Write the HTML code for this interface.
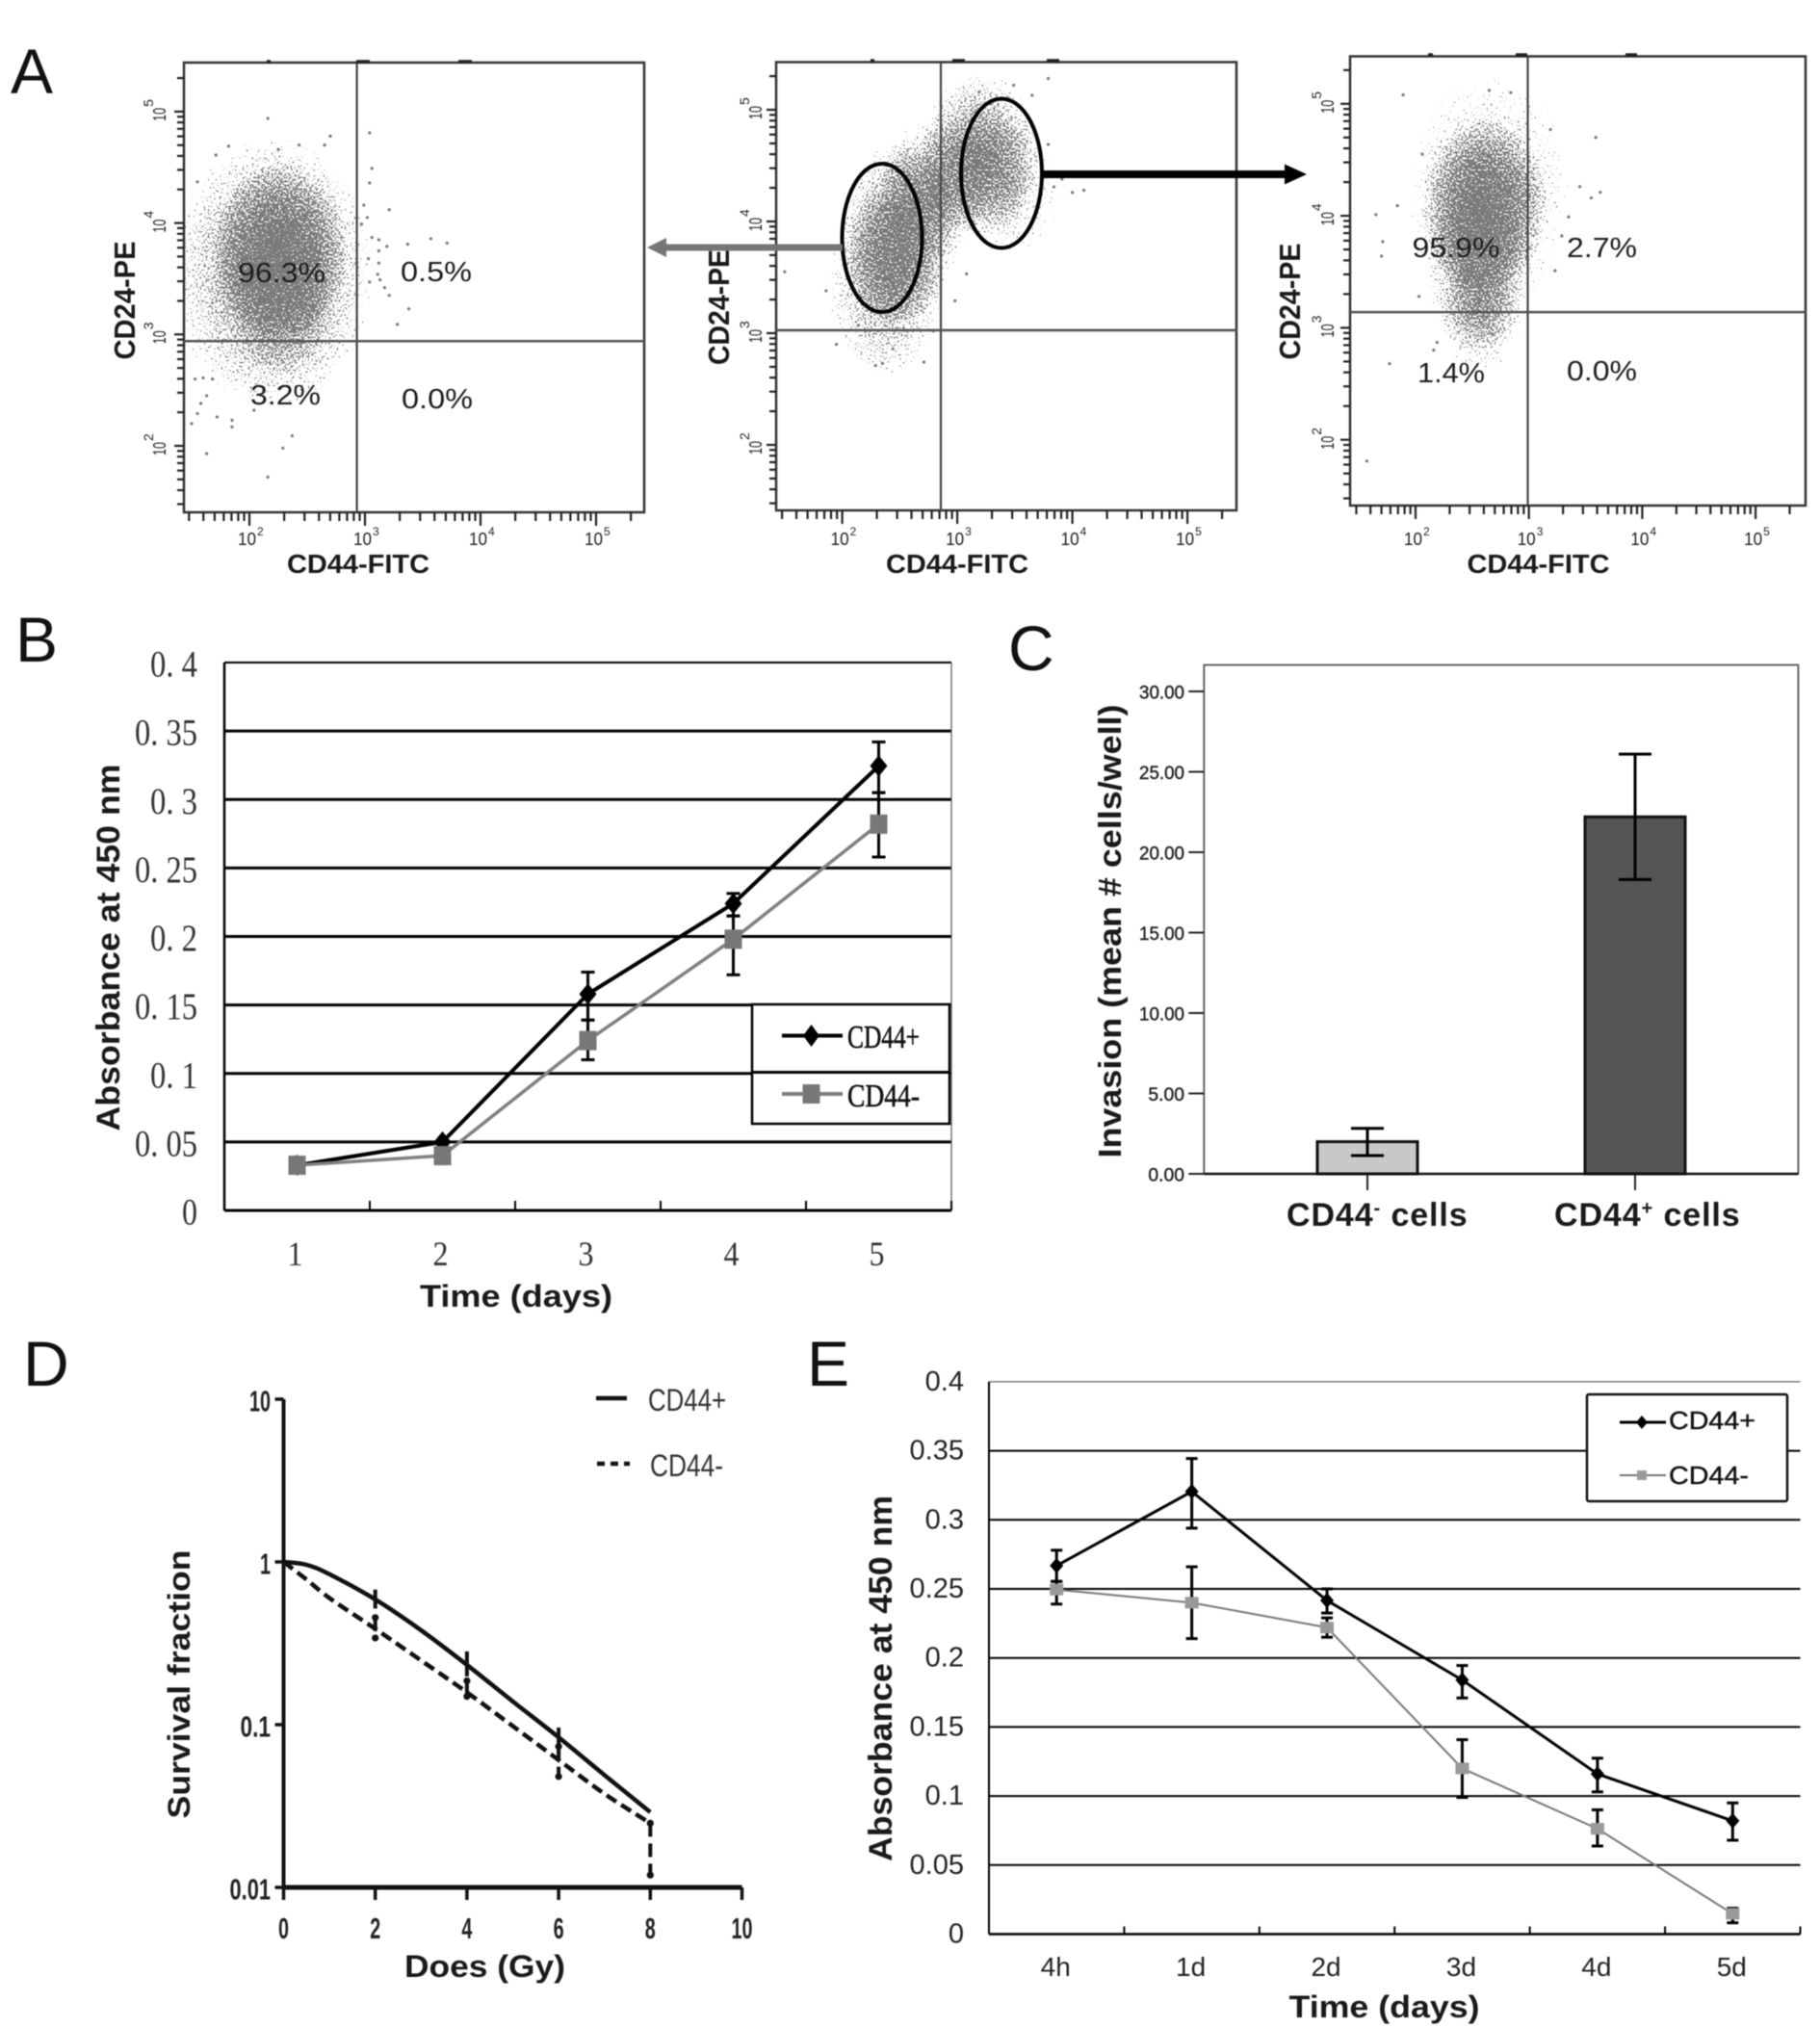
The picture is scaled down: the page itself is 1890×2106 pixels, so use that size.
<!DOCTYPE html>
<html lang="en">
<head>
<meta charset="utf-8">
<title>CD44 characterisation figure</title>
<style>
  html, body { margin: 0; padding: 0; background: #fff; }
  #figure { display: block; width: 1890px; height: 2106px; filter: blur(0.45px); font-family: "Liberation Sans", sans-serif; }
  .b { font-weight: bold; fill: #1a1a1a; }
  .letter { font-size: 66px; fill: #111; }
  .pct { font-size: 29px; fill: #1c1c1c; }
</style>
</head>
<body>
<svg id="figure" width="1890" height="2106" viewBox="0 0 1890 2106">
  <defs>
    <radialGradient id="cloud-gradient">
      <stop offset="0" stop-color="#000" stop-opacity="0.92"/>
      <stop offset="0.35" stop-color="#000" stop-opacity="0.72"/>
      <stop offset="0.65" stop-color="#000" stop-opacity="0.5"/>
      <stop offset="0.85" stop-color="#000" stop-opacity="0.3"/>
      <stop offset="1" stop-color="#000" stop-opacity="0.12"/>
    </radialGradient>
    <filter id="speckle" filterUnits="userSpaceOnUse" x="0" y="0" width="1890" height="700" color-interpolation-filters="sRGB">
      <feTurbulence type="fractalNoise" baseFrequency="0.5" numOctaves="1" seed="7" result="t"/>
      <feColorMatrix in="t" type="matrix" values="0 0 0 0 0  0 0 0 0 0  0 0 0 0 0  2 0 0 0 -0.5" result="n"/>
      <feComposite in="SourceAlpha" in2="n" operator="arithmetic" k1="0" k2="1" k3="1" k4="-1" result="m"/>
      <feComponentTransfer in="m" result="s"><feFuncA type="linear" slope="9" intercept="0"/></feComponentTransfer>
      <feFlood flood-color="#7a7a7a" result="c"/>
      <feComposite in="c" in2="s" operator="in"/>
    </filter>
    <clipPath id="clip-a1"><rect x="191" y="65" width="478" height="467"/></clipPath>
    <clipPath id="clip-a2"><rect x="806" y="64" width="478" height="466"/></clipPath>
    <clipPath id="clip-a3"><rect x="1402" y="58" width="473" height="467"/></clipPath>
  </defs>

  <!-- Panel letters -->
  <text class="letter" x="11" y="97" font-size="68">A</text>
  <text class="letter" x="16" y="687">B</text>
  <text class="letter" x="1047" y="696">C</text>
  <text class="letter" x="24" y="1439">D</text>
  <text class="letter" x="838" y="1439">E</text>

  <!-- Panel A flow plots -->
  <g id="a1"></g>
  <g id="a2"></g>
  <g id="a3"></g>

  <g stroke="#222" stroke-width="3.5">
    <line x1="277" x2="281" y1="64" y2="64"/>
    <line x1="370" x2="384" y1="64" y2="64"/>
    <line x1="476" x2="490" y1="64" y2="64"/>
    <line x1="904" x2="908" y1="63" y2="63"/>
    <line x1="989" x2="1002" y1="63" y2="63"/>
    <line x1="1087" x2="1100" y1="63" y2="63"/>
    <line x1="1483" x2="1488" y1="57" y2="57"/>
    <line x1="1574" x2="1586" y1="57" y2="57"/>
    <line x1="1688" x2="1700" y1="57" y2="57"/>
  </g>

  <g>
    <text class="pct" x="247" y="293" textLength="91" lengthAdjust="spacingAndGlyphs">96.3%</text>
    <text class="pct" x="416" y="292" textLength="74" lengthAdjust="spacingAndGlyphs">0.5%</text>
    <text class="pct" x="260" y="420" textLength="73" lengthAdjust="spacingAndGlyphs">3.2%</text>
    <text class="pct" x="417" y="424" textLength="74" lengthAdjust="spacingAndGlyphs">0.0%</text>
    <text class="b" transform="translate(140,312) rotate(-90)" text-anchor="middle" font-size="31" textLength="123" lengthAdjust="spacingAndGlyphs">CD24-PE</text>
    <text class="b" x="372" y="595" text-anchor="middle" font-size="28" textLength="148" lengthAdjust="spacingAndGlyphs">CD44-FITC</text>

    <text class="b" transform="translate(757,319) rotate(-90)" text-anchor="middle" font-size="31" textLength="120" lengthAdjust="spacingAndGlyphs">CD24-PE</text>
    <text class="b" x="994" y="595" text-anchor="middle" font-size="28" textLength="148" lengthAdjust="spacingAndGlyphs">CD44-FITC</text>
    <ellipse cx="916" cy="247" rx="41.5" ry="77" fill="none" stroke="#000" stroke-width="4"/>
    <ellipse cx="1040" cy="180" rx="42" ry="77.5" fill="none" stroke="#000" stroke-width="4"/>
    <path d="M875 253.5 H692 V247 L672 257 L692 267 V260.5 H875 Z" fill="#767676"/>
    <path d="M1082 177 H1334 V170.5 L1357 181 L1334 191.5 V185 H1082 Z" fill="#000"/>

    <text class="pct" x="1466.5" y="267" textLength="91" lengthAdjust="spacingAndGlyphs">95.9%</text>
    <text class="pct" x="1627" y="267" textLength="73" lengthAdjust="spacingAndGlyphs">2.7%</text>
    <text class="pct" x="1472" y="397" textLength="70" lengthAdjust="spacingAndGlyphs">1.4%</text>
    <text class="pct" x="1627" y="395" textLength="73" lengthAdjust="spacingAndGlyphs">0.0%</text>
    <text class="b" transform="translate(1350,313) rotate(-90)" text-anchor="middle" font-size="31" textLength="121" lengthAdjust="spacingAndGlyphs">CD24-PE</text>
    <text class="b" x="1597.5" y="595" text-anchor="middle" font-size="28" textLength="148" lengthAdjust="spacingAndGlyphs">CD44-FITC</text>
  </g>

  <!-- Panel B -->
  <g id="chart-b"></g>
  <g>
    <rect x="781" y="1043" width="205" height="124" fill="#fff" stroke="#000" stroke-width="2.5"/>
    <line x1="781" x2="986" y1="1113.5" y2="1113.5" stroke="#000" stroke-width="3"/>
    <line x1="812" x2="875" y1="1075.5" y2="1075.5" stroke="#000" stroke-width="4"/>
    <polygon points="842.5,1064 851,1075.5 842.5,1087 834,1075.5" fill="#000"/>
    <text x="880" y="1088" font-family="Liberation Serif, serif" font-size="34" textLength="75" lengthAdjust="spacingAndGlyphs" fill="#111" stroke="#111" stroke-width="0.6">CD44+</text>
    <line x1="812" x2="875" y1="1136" y2="1136" stroke="#808080" stroke-width="4"/>
    <rect x="833.5" y="1126" width="18" height="20" fill="#777"/>
    <text x="880" y="1149" font-family="Liberation Serif, serif" font-size="34" textLength="75" lengthAdjust="spacingAndGlyphs" fill="#111" stroke="#111" stroke-width="0.6">CD44-</text>
  </g>
  <text class="b" transform="translate(124,984) rotate(-90)" text-anchor="middle" font-size="34" textLength="381" lengthAdjust="spacingAndGlyphs">Absorbance at 450 nm</text>
  <text class="b" x="536" y="1357" text-anchor="middle" font-size="32" textLength="200" lengthAdjust="spacingAndGlyphs">Time (days)</text>

  <!-- Panel C -->
  <g id="chart-c"></g>
  <text class="b" transform="translate(1164,967) rotate(-90)" text-anchor="middle" font-size="33" textLength="471" lengthAdjust="spacingAndGlyphs">Invasion (mean # cells/well)</text>
  <text class="b" x="1336" y="1273" font-size="34" letter-spacing="0.9">CD44<tspan dy="-12" font-size="20">-</tspan><tspan dy="12"> cells</tspan></text>
  <text class="b" x="1614" y="1273" font-size="34" letter-spacing="0.9">CD44<tspan dy="-12" font-size="20">+</tspan><tspan dy="12"> cells</tspan></text>

  <!-- Panel D -->
  <g id="chart-d"></g>
  <g>
    <line x1="619" x2="651" y1="1452" y2="1452" stroke="#111" stroke-width="4.5"/>
    <text x="673" y="1465" font-size="32" textLength="81" lengthAdjust="spacingAndGlyphs" fill="#333">CD44+</text>
    <line x1="620" x2="654" y1="1520" y2="1520" stroke="#111" stroke-width="4.5" stroke-dasharray="8 6"/>
    <text x="675" y="1533" font-size="32" textLength="76" lengthAdjust="spacingAndGlyphs" fill="#333">CD44-</text>
  </g>
  <text class="b" transform="translate(197,1749) rotate(-90)" text-anchor="middle" font-size="32" textLength="279" lengthAdjust="spacingAndGlyphs">Survival fraction</text>
  <text class="b" x="503.5" y="2053" text-anchor="middle" font-size="32" textLength="167" lengthAdjust="spacingAndGlyphs">Does (Gy)</text>

  <!-- Panel E -->
  <g id="chart-e"></g>
  <g>
    <rect x="1648" y="1448" width="208" height="111" rx="2" fill="#fff" stroke="#111" stroke-width="2.5"/>
    <line x1="1682" x2="1730" y1="1477" y2="1477" stroke="#000" stroke-width="3"/>
    <polygon points="1705,1470 1711,1477 1705,1484 1699,1477" fill="#000"/>
    <text x="1733" y="1484" font-size="26" textLength="90" lengthAdjust="spacingAndGlyphs" fill="#111" stroke="#111" stroke-width="0.4">CD44+</text>
    <line x1="1682" x2="1730" y1="1532" y2="1532" stroke="#777" stroke-width="2"/>
    <rect x="1700" y="1527" width="10" height="10" fill="#999"/>
    <text x="1733" y="1541" font-size="26" textLength="83" lengthAdjust="spacingAndGlyphs" fill="#111" stroke="#111" stroke-width="0.4">CD44-</text>
  </g>
  <text class="b" transform="translate(926,1743) rotate(-90)" text-anchor="middle" font-size="34" textLength="380" lengthAdjust="spacingAndGlyphs">Absorbance at 450 nm</text>
  <text class="b" x="1437.5" y="2095" text-anchor="middle" font-size="32" textLength="198" lengthAdjust="spacingAndGlyphs">Time (days)</text>
</svg>

<script>
/* ---------- Panel A: flow cytometry data (log10 intensity) ---------- */
const flowExponents = ['2', '3', '4', '5'];

const a1GateLogX = 2.93;
const a1GateLogY = 2.94;
const a1DensityLogX = [2.2, 2.27, 2.28];
const a1DensityLogY = [3.55, 3.75, 3.35];
const a1DensitySpreadX = [0.86, 0.56, 0.42];
const a1DensitySpreadY = [1.2, 0.78, 0.72];
const a1DensityWeight = [0.82, 0.78, 0.4];
const a1OutlierLogX = [2.16,2.70,3.04,1.82,1.71,2.43,2.65,2.25,3.06,3.04,1.55,3.21,3.37,3.57,3.71,3.19,3.12,3.06,3.12,3.03,3.12,3.11,3.04,3.13,3.17,3.21,3.38,3.28,1.50,1.55,1.58,1.63,1.72,1.85,1.85,2.04,2.37,2.29,1.63,2.16,1.53,1.60,1.68,2.99,3.02,2.97];
const a1OutlierLogY = [4.94,4.78,4.81,4.69,4.61,4.70,4.70,4.66,4.49,4.36,4.37,4.12,3.81,3.86,3.82,3.79,3.85,3.87,3.75,3.68,3.64,3.54,3.47,3.49,3.42,3.35,3.23,3.09,2.20,2.29,2.38,2.45,2.26,2.23,2.17,2.32,2.09,1.98,1.93,1.72,2.60,2.61,2.60,4.16,4.05,3.99];

const a2GateLogX = 2.857;
const a2GateLogY = 3.026;
const a2DensityLogX = [2.38, 2.5, 2.8, 3.2, 3.45];
const a2DensityLogY = [3.4, 3.9, 4.3, 4.6, 4.3];
const a2DensitySpreadX = [0.5, 0.5, 0.45, 0.5, 0.45];
const a2DensitySpreadY = [0.8, 0.8, 0.62, 0.72, 0.62];
const a2DensityWeight = [0.65, 0.85, 0.65, 0.85, 0.4];
const a2OutlierLogX = [3.79,3.49,3.19,3.65,4.10,4.00,3.84,3.79,1.50,1.86,1.95,2.29,2.35,2.71,2.44,2.14,2.79,2.98,3.08,3.91];
const a2OutlierLogY = [5.28,5.22,5.16,5.13,4.28,4.26,4.31,4.69,3.55,3.38,2.90,2.71,2.73,2.74,2.86,3.07,3.02,3.29,3.53,4.38];

const a3GateLogX = 2.99;
const a3GateLogY = 3.14;
const a3DensityLogX = [2.6, 2.55, 2.65, 2.58];
const a3DensityLogY = [4.1, 3.5, 4.2, 3.1];
const a3DensitySpreadX = [0.55, 0.45, 0.72, 0.36];
const a3DensitySpreadY = [0.75, 0.7, 1.05, 0.5];
const a3DensityWeight = [0.95, 0.65, 0.45, 0.5];
const a3OutlierLogX = [1.89,2.65,2.84,1.57,3.59,3.19,2.06,1.65,1.84,1.71,1.70,3.63,3.55,3.45,3.23,2.03,1.77,2.16,2.68,3.35,3.29,2.19];
const a3OutlierLogY = [5.08,5.12,5.10,1.81,4.70,4.77,4.55,4.01,4.09,3.77,3.64,4.21,4.16,4.26,3.51,3.28,2.68,2.80,2.94,3.99,3.82,2.87];

/* ---------- Panel B: proliferation ---------- */
const bCategories = ['1', '2', '3', '4', '5'];
const bTickValues = [0, 0.05, 0.1, 0.15, 0.2, 0.25, 0.3, 0.35, 0.4];
const bTickLabels = ['0', '0. 05', '0. 1', '0. 15', '0. 2', '0. 25', '0. 3', '0. 35', '0. 4'];
const bPositive = [0.033, 0.05, 0.158, 0.224, 0.3245];
const bPositiveUpper = [null, null, 0.174, 0.2314, 0.342];
const bPositiveLower = [null, null, 0.139, 0.215, 0.305];
const bNegative = [0.033, 0.04, 0.124, 0.198, 0.282];
const bNegativeUpper = [null, null, 0.139, 0.215, 0.305];
const bNegativeLower = [null, null, 0.11, 0.172, 0.258];

/* ---------- Panel C: invasion ---------- */
const cTickValues = [0, 5, 10, 15, 20, 25, 30];
const cTickLabels = ['0.00', '5.00', '10.00', '15.00', '20.00', '25.00', '30.00'];
const cCategories = ['cd44-negative', 'cd44-positive'];
const cMeans = [2.0, 22.2];
const cUpper = [2.83, 26.1];
const cLower = [1.14, 18.3];

/* ---------- Panel D: survival ---------- */
const dDoses = [0, 0.5, 1, 2, 3, 4, 5, 6, 7, 8];
const dXTickLabels = ['0', '2', '4', '6', '8', '10'];
const dXTickValues = [0, 2, 4, 6, 8, 10];
const dYTickValues = [0.01, 0.1, 1, 10];
const dYTickLabels = ['0.01', '0.1', '1', '10'];
const dPositive = [1, 0.96, 0.84, 0.588, 0.38, 0.233, 0.139, 0.0836, 0.049, 0.029];
const dPositiveUpper = [null, null, null, 0.676, null, 0.282, null, 0.096, null, null];
const dPositiveLower = [null, null, null, 0.517, null, 0.198, null, 0.065, null, null];
const dNegative = [1, 0.78, 0.6, 0.388, 0.248, 0.158, 0.098, 0.0607, 0.0376, 0.0248];
const dNegativeUpper = [null, null, null, 0.455, null, 0.186, null, 0.0735, null, 0.0248];
const dNegativeLower = [null, null, null, 0.341, null, 0.149, null, 0.048, null, 0.0119];

/* ---------- Panel E: recovery ---------- */
const eCategories = ['4h', '1d', '2d', '3d', '4d', '5d'];
const eTickValues = [0, 0.05, 0.1, 0.15, 0.2, 0.25, 0.3, 0.35, 0.4];
const eTickLabels = ['0', '0.05', '0.1', '0.15', '0.2', '0.25', '0.3', '0.35', '0.4'];
const ePositive = [0.2668, 0.3205, 0.2416, 0.184, 0.116, 0.082];
const ePositiveUpper = [0.278, 0.3444, 0.25, 0.1945, 0.1274, 0.095];
const ePositiveLower = [0.2554, 0.294, 0.2325, 0.171, 0.103, 0.068];
const eNegative = [0.2495, 0.24, 0.222, 0.12, 0.0763, 0.0147];
const eNegativeUpper = [0.2554, 0.266, 0.229, 0.1408, 0.09, 0.0187];
const eNegativeLower = [0.239, 0.214, 0.215, 0.099, 0.0638, 0.0082];

/* ---------- Helpers ---------- */
const svgNS = document.getElementById('figure').namespaceURI;
function mk(parent, tag, attrs, text) {
  const el = document.createElementNS(svgNS, tag);
  for (const k in attrs) el.setAttribute(k, attrs[k]);
  if (text !== undefined) el.textContent = text;
  parent.appendChild(el);
  return el;
}

/* ---------- Flow plots ---------- */
function drawFlow(id, g, gateLogX, gateLogY, dX, dY, sX, sY, w, oX, oY, yLabelX) {
  const root = document.getElementById(id);
  const px = v => g.x2 + (v - 2) * g.xStep;
  const py = v => g.y2 - (v - 2) * g.yStep;

  const clip = mk(root, 'g', { 'clip-path': 'url(#clip-' + id + ')' });
  
  
  const density = mk(clip, 'g', { filter: 'url(#speckle)' });
  
  
  dX.forEach((v, i) => {
    const blob = mk(density, 'ellipse', {
      cx: px(v), cy: py(dY[i]), rx: sX[i] * g.xStep, ry: sY[i] * g.yStep,
      fill: 'url(#cloud-gradient)', opacity: w[i]
    });
    
    
  });
  oX.forEach((v, i) => {
    const dot = mk(clip, 'circle', { cx: px(v), cy: py(oY[i]), r: 1.6, fill: '#777' });
    
    
  });

  const frame = mk(root, 'rect', { x: g.left, y: g.top, width: g.right - g.left, height: g.bottom - g.top, fill: 'none', stroke: '#333', 'stroke-width': 2.5 });
  
  
  const vGate = mk(root, 'line', { x1: px(gateLogX), x2: px(gateLogX), y1: g.top, y2: g.bottom, stroke: '#444', 'stroke-width': 2.2 });
  
  
  const hGate = mk(root, 'line', { x1: g.left, x2: g.right, y1: py(gateLogY), y2: py(gateLogY), stroke: '#555', 'stroke-width': 2.6 });
  
  

  for (let d = 1; d <= 5; d++) {
    for (let n = 1; n <= 9; n++) {
      const v = d + Math.log10(n);
      const major = n === 1;
      if (v >= 1.46 && v <= 5.31) {
        const tx = mk(root, 'line', { x1: px(v), x2: px(v), y1: g.bottom, y2: g.bottom + (major ? 14 : 9), stroke: '#222', 'stroke-width': 2.2 });
        
        
        const ty = mk(root, 'line', { x1: g.left - (major ? 10 : 7), x2: g.left, y1: py(v), y2: py(v), stroke: '#222', 'stroke-width': 2.2 });
        
        
      }
    }
  }

  flowExponents.forEach(e => {
    const v = Number(e);
    const xb = mk(root, 'text', { x: px(v) - 12, y: 566, 'font-size': 18, fill: '#222', textLength: 19, lengthAdjust: 'spacingAndGlyphs' }, '10');
    
    
    const xe = mk(root, 'text', { x: px(v) + 8, y: 556, 'font-size': 12, fill: '#222' }, e);
    
    
    const yb = mk(root, 'text', { transform: 'translate(' + yLabelX + ',' + (py(v) + 10) + ') rotate(-90)', 'font-size': 18, fill: '#222', textLength: 14, lengthAdjust: 'spacingAndGlyphs' }, '10');
    
    
    const ye = mk(root, 'text', { transform: 'translate(' + (yLabelX - 13) + ',' + (py(v) - 5) + ') rotate(-90)', 'font-size': 14, fill: '#222' }, e);
    
    
  });
}

drawFlow('a1', { left: 191, right: 669, top: 65, bottom: 532, x2: 259, xStep: 120, y2: 463, yStep: 115.7 },
  a1GateLogX, a1GateLogY, a1DensityLogX, a1DensityLogY, a1DensitySpreadX, a1DensitySpreadY, a1DensityWeight, a1OutlierLogX, a1OutlierLogY, 172);
drawFlow('a2', { left: 806, right: 1284, top: 64.5, bottom: 530, x2: 874.6, xStep: 119.5, y2: 462, yStep: 116 },
  a2GateLogX, a2GateLogY, a2DensityLogX, a2DensityLogY, a2DensitySpreadX, a2DensitySpreadY, a2DensityWeight, a2OutlierLogX, a2OutlierLogY, 791);
drawFlow('a3', { left: 1402, right: 1875, top: 58.5, bottom: 525, x2: 1470, xStep: 117.7, y2: 456.7, yStep: 116.3 },
  a3GateLogX, a3GateLogY, a3DensityLogX, a3DensityLogY, a3DensitySpreadX, a3DensitySpreadY, a3DensityWeight, a3OutlierLogX, a3OutlierLogY, 1385);

/* ---------- Line charts B and E ---------- */
function drawLineChart(id, c) {
  const root = document.getElementById(id);
  const band = (c.right - c.left) / c.categories.length;
  const x = i => c.left + (i + 0.5) * band;
  const y = v => c.zeroY - v * c.pxPerUnit;

  c.tickValues.forEach((v, i) => {
    if (v > 0) {
      const isTop = v === c.tickValues[c.tickValues.length - 1];
      const grid = mk(root, 'line', { x1: c.left, x2: c.right, y1: y(v), y2: y(v), stroke: isTop ? c.topColor : '#000', 'stroke-width': isTop ? c.topWidth : c.gridWidth });
      
      
    }
    const label = c.tickLabels[i];
    const attrs = { x: c.yLabelX, y: y(v) + c.yLabelDy, 'text-anchor': 'end', 'font-size': c.yFont, fill: c.labelColor, 'font-family': c.family };
    if (c.narrow) {
      attrs.textLength = label.replace(/\D/g, '').length * 16 + (label.includes('.') ? 17 : 0);
      attrs.lengthAdjust = 'spacingAndGlyphs';
    }
    const t = mk(root, 'text', attrs, label);
    
    
  });

  const yAxis = mk(root, 'line', { x1: c.left, x2: c.left, y1: c.zeroY, y2: y(c.tickValues[c.tickValues.length - 1]), stroke: '#000', 'stroke-width': c.axisWidth });
  
  
  const xAxis = mk(root, 'line', { x1: c.left, x2: c.right, y1: c.zeroY, y2: c.zeroY, stroke: '#000', 'stroke-width': c.axisWidth + 0.5 });
  
  
  if (c.rightEdge) {
    const edge = mk(root, 'line', { x1: c.right, x2: c.right, y1: c.zeroY, y2: y(c.tickValues[c.tickValues.length - 1]), stroke: '#555', 'stroke-width': 1.2 });
    
    
  }

  for (let i = 0; i <= c.categories.length; i++) {
    const tk = mk(root, 'line', { x1: c.left + i * band, x2: c.left + i * band, y1: c.zeroY, y2: c.zeroY - c.tickLen, stroke: '#000', 'stroke-width': 2 });
    
    
  }

  c.categories.forEach((cat, i) => {
    const attrs = { x: x(i) + c.xLabelDx, y: c.xLabelY, 'text-anchor': 'middle', 'font-size': c.xFont, fill: c.labelColor, 'font-family': c.family };
    if (c.narrow) {
      attrs.textLength = 16;
      attrs.lengthAdjust = 'spacingAndGlyphs';
    }
    const t = mk(root, 'text', attrs, cat);
    
    
  });

  c.series.forEach(s => {
    s.upper.forEach((u, i) => {
      if (u === null) return;
      const l = s.lower[i];
      const bar = mk(root, 'line', { x1: x(i), x2: x(i), y1: y(u), y2: y(l), stroke: '#000', 'stroke-width': c.errWidth });
      
      
      [u, l].forEach(e => {
        const cap = mk(root, 'line', { x1: x(i) - c.capHalf, x2: x(i) + c.capHalf, y1: y(e), y2: y(e), stroke: '#000', 'stroke-width': c.errWidth });
        
        
      });
    });
  });

  c.series.forEach(s => {
    const pts = s.values.map((v, i) => x(i) + ',' + y(v)).join(' ');
    const line = mk(root, 'polyline', { points: pts, fill: 'none', stroke: s.color, 'stroke-width': s.width, 'stroke-linejoin': 'round' });
    
    
    s.values.forEach((v, i) => {
      const m = s.diamond
        ? mk(root, 'polygon', { points: [[0, -s.sizeY], [s.sizeX, 0], [0, s.sizeY], [-s.sizeX, 0]].map(p => (x(i) + p[0]) + ',' + (y(v) + p[1])).join(' '), fill: s.markerColor })
        : mk(root, 'rect', { x: x(i) - s.sizeX, y: y(v) - s.sizeY, width: 2 * s.sizeX, height: 2 * s.sizeY, fill: s.markerColor });
      
      
    });
  });
}

drawLineChart('chart-b', {
  left: 233, right: 988, zeroY: 1257, pxPerUnit: 1422.5, categories: bCategories,
  tickValues: bTickValues, tickLabels: bTickLabels, gridWidth: 3, topColor: '#000', topWidth: 2,
  axisWidth: 2.5, rightEdge: true, tickLen: 10, narrow: true, family: '"Liberation Serif", serif',
  yFont: 39, xFont: 36, yLabelX: 205, yLabelDy: 14.5, xLabelY: 1314, xLabelDx: -2, labelColor: '#333',
  errWidth: 3, capHalf: 7,
  series: [
    { name: 'b-cd44-positive', values: bPositive, upper: bPositiveUpper, lower: bPositiveLower, color: '#000', markerColor: '#000', width: 4, diamond: true, sizeX: 9, sizeY: 11 },
    { name: 'b-cd44-negative', values: bNegative, upper: bNegativeUpper, lower: bNegativeLower, color: '#808080', markerColor: '#777', width: 3.5, diamond: false, sizeX: 9, sizeY: 10 }
  ]
});

drawLineChart('chart-e', {
  left: 1027, right: 1869.5, zeroY: 2008.5, pxPerUnit: 1434, categories: eCategories,
  tickValues: eTickValues, tickLabels: eTickLabels, gridWidth: 2, topColor: '#666', topWidth: 1.2,
  axisWidth: 2, rightEdge: false, tickLen: 8, narrow: false, family: '"Liberation Sans", sans-serif',
  yFont: 29, xFont: 28, yLabelX: 1001, yLabelDy: 9, xLabelY: 2052, xLabelDx: -1, labelColor: '#222',
  errWidth: 3, capHalf: 6,
  series: [
    { name: 'e-cd44-positive', values: ePositive, upper: ePositiveUpper, lower: ePositiveLower, color: '#000', markerColor: '#000', width: 3, diamond: true, sizeX: 7, sizeY: 8 },
    { name: 'e-cd44-negative', values: eNegative, upper: eNegativeUpper, lower: eNegativeLower, color: '#777', markerColor: '#999', width: 2, diamond: false, sizeX: 7, sizeY: 6 }
  ]
});

/* ---------- Bar chart C ---------- */
(function () {
  const root = document.getElementById('chart-c');
  const left = 1250.3, right = 1867.4, top = 690.5, zero = 1219, unit = 16.7;
  const y = v => zero - v * unit;
  const centers = i => 1420 + i * 278;
  const halfBar = 52;

  const frame = mk(root, 'rect', { x: left, y: top, width: right - left, height: zero - top, fill: '#fff', stroke: '#555', 'stroke-width': 1.8 });
  
  

  cTickValues.forEach((v, i) => {
    const tk = mk(root, 'line', { x1: left - 16, x2: left, y1: y(v), y2: y(v), stroke: '#222', 'stroke-width': 2 });
    
    
    const t = mk(root, 'text', { x: 1230, y: y(v) + 7.5, 'text-anchor': 'end', 'font-size': 19, fill: '#222', stroke: '#222', 'stroke-width': 0.4, textLength: cTickLabels[i].length * 9.4, lengthAdjust: 'spacingAndGlyphs' }, cTickLabels[i]);
    
    
  });

  cMeans.forEach((v, i) => {
    const bar = mk(root, 'rect', { x: centers(i) - halfBar, y: y(v), width: 2 * halfBar, height: zero - y(v), fill: i === 0 ? '#c8c8c8' : '#555', stroke: '#111', 'stroke-width': 3 });
    
    
    const err = mk(root, 'line', { x1: centers(i), x2: centers(i), y1: y(cUpper[i]), y2: y(cLower[i]), stroke: '#000', 'stroke-width': 3 });
    
    
    [cUpper[i], cLower[i]].forEach(e => {
      const cap = mk(root, 'line', { x1: centers(i) - 17, x2: centers(i) + 17, y1: y(e), y2: y(e), stroke: '#000', 'stroke-width': 3 });
      
      
    });
    const tk = mk(root, 'line', { x1: centers(i), x2: centers(i), y1: zero, y2: zero + 17, stroke: '#222', 'stroke-width': 2 });
    
    
  });

  const axis = mk(root, 'line', { x1: left, x2: right, y1: zero, y2: zero, stroke: '#111', 'stroke-width': 2.5 });
  
  
})();

/* ---------- Survival chart D ---------- */
(function () {
  const root = document.getElementById('chart-d');
  const x = d => 294.5 + d * 47.6;
  const y = v => 1622 - Math.log10(v) * 169;
  const bottom = y(dYTickValues[0]);

  function smooth(values) {
    const p = values.map((v, i) => [x(dDoses[i]), y(v)]);
    let d = 'M' + p[0][0] + ' ' + p[0][1];
    for (let i = 0; i < p.length - 1; i++) {
      const a = p[Math.max(i - 1, 0)], b = p[i], c = p[i + 1], e = p[Math.min(i + 2, p.length - 1)];
      d += ' C' + (b[0] + (c[0] - a[0]) / 6) + ' ' + (b[1] + (c[1] - a[1]) / 6) + ' ' + (c[0] - (e[0] - b[0]) / 6) + ' ' + (c[1] - (e[1] - b[1]) / 6) + ' ' + c[0] + ' ' + c[1];
    }
    return d;
  }

  function narrowWidth(label) {
    return label.replace(/\D/g, '').length * 11 + (label.includes('.') ? 9.5 : 0);
  }

  dYTickValues.forEach((v, i) => {
    const tk = mk(root, 'line', { x1: x(0) - 9, x2: x(0), y1: y(v), y2: y(v), stroke: '#111', 'stroke-width': 3.5 });
    
    
    const t = mk(root, 'text', { x: 281, y: y(v) + 12.5, 'text-anchor': 'end', 'font-size': 31, 'font-weight': 'bold', fill: '#222', textLength: narrowWidth(dYTickLabels[i]), lengthAdjust: 'spacingAndGlyphs' }, dYTickLabels[i]);
    
    
  });

  dXTickValues.forEach((v, i) => {
    const tk = mk(root, 'line', { x1: x(v), x2: x(v), y1: bottom, y2: bottom + 13, stroke: '#111', 'stroke-width': 3.5 });
    
    
    const t = mk(root, 'text', { x: x(v), y: 2013, 'text-anchor': 'middle', 'font-size': 31, 'font-weight': 'bold', fill: '#222', textLength: narrowWidth(dXTickLabels[i]), lengthAdjust: 'spacingAndGlyphs' }, dXTickLabels[i]);
    
    
  });

  const yAxis = mk(root, 'line', { x1: x(0), x2: x(0), y1: y(10), y2: bottom, stroke: '#111', 'stroke-width': 4 });
  
  
  const xAxis = mk(root, 'line', { x1: x(0), x2: x(10), y1: bottom, y2: bottom, stroke: '#111', 'stroke-width': 5 });
  
  

  const plus = mk(root, 'path', { d: smooth(dPositive), fill: 'none', stroke: '#111', 'stroke-width': 4.5 });
  
  
  const minus = mk(root, 'path', { d: smooth(dNegative), fill: 'none', stroke: '#111', 'stroke-width': 4.5, 'stroke-dasharray': '12 6' });
  
  

  dDoses.forEach((d, i) => {
    if (dPositiveUpper[i] !== null) {
      const e = mk(root, 'line', { x1: x(d), x2: x(d), y1: y(dPositiveUpper[i]), y2: y(dPositiveLower[i]), stroke: '#111', 'stroke-width': 4 });
      
      
    }
    if (dNegativeUpper[i] !== null) {
      const e = mk(root, 'line', { x1: x(d), x2: x(d), y1: y(dNegativeUpper[i]), y2: y(dNegativeLower[i]), stroke: '#111', 'stroke-width': 4, 'stroke-dasharray': '14 7' });
      
      
      [dNegativeUpper[i], dNegativeLower[i]].forEach(b => {
        const dot = mk(root, 'circle', { cx: x(d), cy: y(b), r: 3.6, fill: '#111' });
        
        
      });
    }
  });
})();
</script>
</body>
</html>
